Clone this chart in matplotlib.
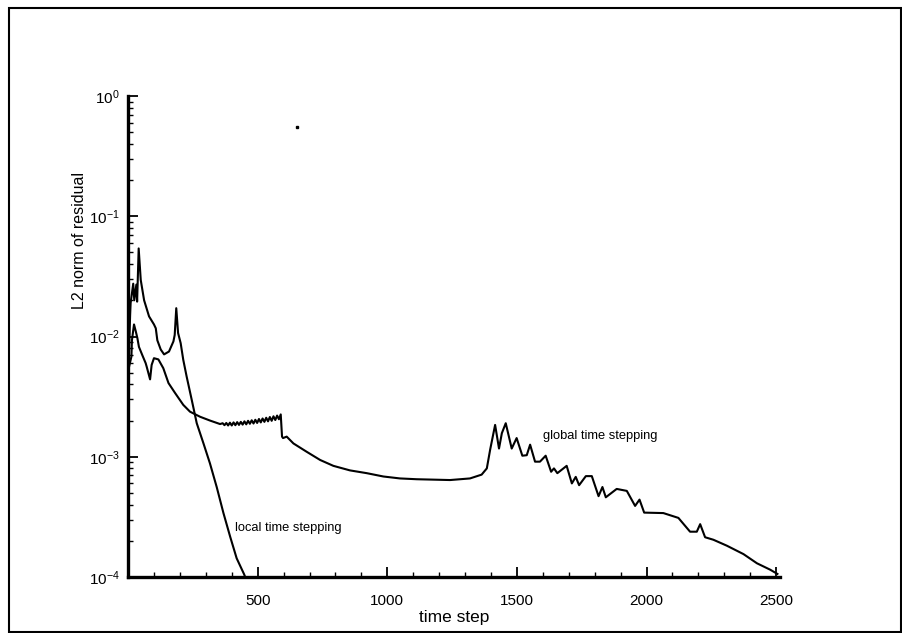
import numpy as np
import matplotlib
matplotlib.use("Agg")
import matplotlib.pyplot as plt
from matplotlib.ticker import LogLocator, MultipleLocator, NullFormatter
from matplotlib.patches import Rectangle

# local time stepping residual history
local_t = [3, 8, 10, 20, 24, 32, 35, 41, 49, 62, 81, 100, 107, 113, 126, 139, 158,
           175, 180, 186, 193, 203, 213, 226, 246, 265, 291, 316, 342, 368, 394,
           419, 448, 460]
local_r = [6.5e-3, 1.5e-2, 1.9e-2, 2.75e-2, 2.0e-2, 2.7e-2, 1.95e-2, 5.4e-2, 2.95e-2,
           2.0e-2, 1.47e-2, 1.26e-2, 1.17e-2, 9.3e-3, 7.8e-3, 7.1e-3, 7.5e-3,
           9.1e-3, 1.03e-2, 1.72e-2, 1.07e-2, 8.8e-3, 6.4e-3, 4.65e-3, 2.95e-3,
           1.9e-3, 1.29e-3, 8.8e-4, 5.6e-4, 3.4e-4, 2.16e-4, 1.43e-4, 1.05e-4, 9.0e-5]

# global time stepping residual history
global_t = [3, 13, 15, 23, 30, 36, 42, 55, 68, 72, 85, 91, 100, 117, 136, 156, 181,
            213, 239, 278, 316, 355,
            365, 372, 379, 386, 393, 400, 407, 414, 421, 428, 435, 442, 449, 456,
            463, 470, 477, 484, 491, 498, 505, 512, 519, 526, 533, 540, 547, 554,
            561, 568, 575, 582, 589,
            594, 598, 612, 638, 689, 741, 792, 856, 921, 985, 1049, 1114, 1242,
            1319, 1364, 1384, 1397, 1416, 1431, 1442, 1457, 1480, 1499, 1521, 1538,
            1551, 1570, 1589, 1611, 1632, 1643, 1656, 1692, 1712, 1727, 1740, 1766,
            1789, 1815, 1830, 1843, 1885, 1924, 1956, 1973, 1991, 2065, 2123, 2168,
            2194, 2207, 2226, 2258, 2310, 2374, 2426, 2477, 2505]
global_r = [5.5e-3, 6.8e-3, 9.3e-3, 1.26e-2, 1.1e-2, 9.7e-3, 8.2e-3, 7.0e-3, 6.0e-3,
            5.6e-3, 4.4e-3, 5.8e-3, 6.6e-3, 6.45e-3, 5.45e-3, 4.1e-3, 3.4e-3,
            2.7e-3, 2.37e-3, 2.15e-3, 2.0e-3, 1.87e-3,
            1.90e-3, 1.83e-3, 1.91e-3, 1.82e-3, 1.92e-3, 1.82e-3, 1.93e-3, 1.83e-3,
            1.94e-3, 1.84e-3, 1.95e-3, 1.85e-3, 1.97e-3, 1.86e-3, 1.99e-3, 1.88e-3,
            2.01e-3, 1.89e-3, 2.03e-3, 1.91e-3, 2.06e-3, 1.93e-3, 2.08e-3, 1.95e-3,
            2.11e-3, 1.97e-3, 2.14e-3, 1.99e-3, 2.17e-3, 2.02e-3, 2.2e-3, 2.05e-3,
            2.25e-3,
            1.47e-3, 1.43e-3, 1.47e-3, 1.29e-3, 1.10e-3, 9.4e-4, 8.4e-4, 7.7e-4,
            7.3e-4, 6.85e-4, 6.6e-4, 6.5e-4, 6.4e-4, 6.6e-4, 7.1e-4, 8.0e-4, 1.15e-3,
            1.84e-3, 1.17e-3, 1.57e-3, 1.9e-3, 1.17e-3, 1.43e-3, 1.02e-3, 1.03e-3,
            1.26e-3, 9.1e-4, 9.1e-4, 1.02e-3, 7.5e-4, 8.0e-4, 7.3e-4, 8.4e-4, 6.0e-4,
            6.8e-4, 5.8e-4, 6.9e-4, 6.9e-4, 4.7e-4, 5.6e-4, 4.6e-4, 5.4e-4, 5.2e-4,
            3.9e-4, 4.4e-4, 3.43e-4, 3.4e-4, 3.1e-4, 2.38e-4, 2.38e-4, 2.75e-4,
            2.14e-4, 2.04e-4, 1.82e-4, 1.55e-4, 1.30e-4, 1.15e-4, 1.06e-4]

xticks = [500, 1000, 1500, 2000, 2500]

plt.rcParams['font.family'] = ['Liberation Sans', 'DejaVu Sans']

fig = plt.figure(figsize=(9.03, 6.33), dpi=100)
ax = fig.add_axes([0.1418, 0.0885, 0.7220, 0.7598])

ax.plot(local_t, local_r, color='black', linewidth=1.5)
ax.plot(global_t, global_r, color='black', linewidth=1.5)
# stray speck in the scan
ax.plot([652], [0.55], 's', color='black', markersize=1.5)

ax.set_yscale('log')
ax.set_ylim(1e-4, 1)
ax.set_xlim(0, 2515)
ax.set_xticks(xticks)
ax.xaxis.set_minor_locator(MultipleLocator(100))
ax.yaxis.set_major_locator(LogLocator(base=10, numticks=10))
ax.yaxis.set_minor_locator(LogLocator(base=10, subs=np.arange(2, 10), numticks=10))
ax.yaxis.set_minor_formatter(NullFormatter())

for side in ['top', 'right']:
  ax.spines[side].set_visible(False)
for side in ['left', 'bottom']:
  ax.spines[side].set_linewidth(2.4)

ax.tick_params(which='major', direction='in', length=7, width=1.3, labelsize=11, pad=12)
ax.tick_params(which='minor', direction='in', length=3.5, width=1.0)
ax.tick_params(axis='y', which='major', pad=6)

ax.set_xlabel('time step', fontsize=12.5, labelpad=2)
fig.text(0.088, 0.62, 'L2 norm of residual', rotation=90, fontsize=11.5,
         ha='center', va='center')

ax.text(1601, 1.5e-3, 'global time stepping', fontsize=9.3, va='center')
ax.text(413, 2.55e-4, 'local time stepping', fontsize=9.3, va='center')

# scanned page frame
fig.patches.append(Rectangle((0.010, 0.002), 0.988, 0.985, transform=fig.transFigure,
                             fill=False, edgecolor='black', linewidth=1.5))

fig.savefig('out.png', dpi=100)
